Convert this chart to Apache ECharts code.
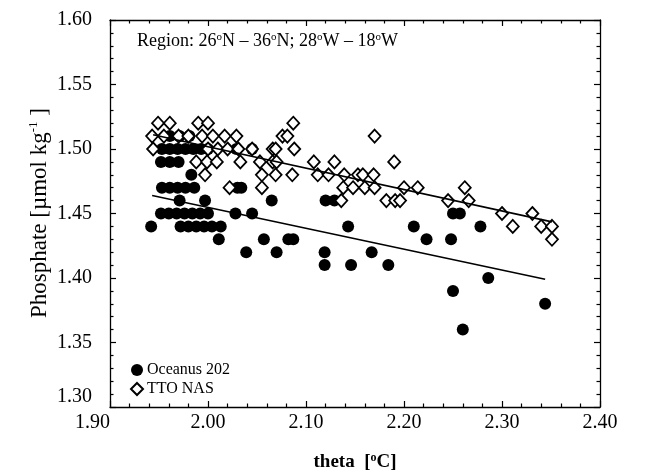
<!DOCTYPE html>
<html><head><meta charset="utf-8">
<script src="https://cdn.jsdelivr.net/npm/echarts@6/dist/echarts.min.js"></script>
<style>html,body{margin:0;padding:0;background:#fff}#c{width:651px;height:473px}</style>
</head><body><div id="c"></div>
<script>
// ---- data ----
const xTicks = ['1.90','2.00','2.10','2.20','2.30','2.40'];
const yTicks = ['1.30','1.35','1.40','1.45','1.50','1.55','1.60'];

const oceanusTheta = [
  1.961,1.971,1.981,
  1.953,1.961,1.969,1.977,1.985,1.993,2.000,2.029,2.045,
  1.952,1.961,1.970,
  1.983,
  1.953,1.961,1.969,1.977,1.986,2.030,2.034,
  1.971,1.997,2.065,2.120,2.129,
  1.952,1.960,1.968,1.976,1.984,1.992,2.000,2.028,2.045,2.250,2.257,
  1.942,1.972,1.980,1.988,1.996,2.004,2.013,2.143,2.210,2.278,
  2.011,2.057,2.082,2.087,2.223,2.248,
  2.039,2.070,2.119,2.167,
  2.119,2.146,2.184,
  2.286,
  2.250,
  2.344,
  2.260
];
const oceanusPhosphate = [
  1.51,1.51,1.51,
  1.50,1.50,1.50,1.50,1.50,1.50,1.50,1.50,1.50,
  1.49,1.49,1.49,
  1.48,
  1.47,1.47,1.47,1.47,1.47,1.47,1.47,
  1.46,1.46,1.46,1.46,1.46,
  1.45,1.45,1.45,1.45,1.45,1.45,1.45,1.45,1.45,1.45,1.45,
  1.44,1.44,1.44,1.44,1.44,1.44,1.44,1.44,1.44,1.44,
  1.43,1.43,1.43,1.43,1.43,1.43,
  1.42,1.42,1.42,1.42,
  1.41,1.41,1.41,
  1.40,
  1.39,
  1.38,
  1.36
];

const ttoTheta = [
  1.949,1.961,1.990,2.000,2.087,
  1.943,1.955,1.970,1.980,1.994,2.005,2.017,2.029,2.076,2.081,2.170,
  1.944,2.000,2.010,2.020,2.031,2.045,2.066,2.069,2.088,
  1.988,1.999,2.009,2.033,2.053,2.066,2.070,2.108,2.129,2.190,
  1.997,2.055,2.069,2.086,2.112,2.123,2.139,2.153,2.158,2.169,
  2.022,2.055,2.138,2.148,2.160,2.170,2.200,2.214,2.262,
  2.136,2.182,2.191,2.196,2.245,2.266,
  2.300,2.331,
  2.311,2.340,2.351,
  2.351
];
const ttoPhosphate = [
  1.52,1.52,1.52,1.52,1.52,
  1.51,1.51,1.51,1.51,1.51,1.51,1.51,1.51,1.51,1.51,1.51,
  1.50,1.50,1.50,1.50,1.50,1.50,1.50,1.50,1.50,
  1.49,1.49,1.49,1.49,1.49,1.49,1.49,1.49,1.49,1.49,
  1.48,1.48,1.48,1.48,1.48,1.48,1.48,1.48,1.48,1.48,
  1.47,1.47,1.47,1.47,1.47,1.47,1.47,1.47,1.47,
  1.46,1.46,1.46,1.46,1.46,1.46,
  1.45,1.45,
  1.44,1.44,1.44,
  1.43
];

const oceanusFitTheta = [1.943, 2.344];
const oceanusFitPhosphate = [1.464, 1.399];
const ttoFitTheta = [1.944, 2.351];
const ttoFitPhosphate = [1.511, 1.4435];

// ---- chart ----
const FONT = '"Liberation Serif", "Times New Roman", serif';
const zip = (a, b) => a.map((v, i) => [v, b[i]]);
const fmt = list => v => { const t = list.find(s => Math.abs(parseFloat(s) - v) < 1e-6); return t || ''; };

const axisCommon = {
  type: 'value',
  axisLine: { show: true, onZero: false, lineStyle: { color: '#000', width: 1.3 } },
  axisTick: { show: true, inside: true, length: 6, lineStyle: { color: '#000', width: 1.2 } },
  minorTick: { show: true, splitNumber: 5, length: 3.5, lineStyle: { color: '#000', width: 1.2 } },
  splitLine: { show: false },
  minorSplitLine: { show: false }
};

const chart = echarts.init(document.getElementById('c'), null, { renderer: 'canvas' });
chart.setOption({
  animation: false,
  backgroundColor: '#fff',
  grid: { left: 110, right: 51, top: 20, bottom: 66, containLabel: false },
  xAxis: [
    Object.assign({}, axisCommon, {
      position: 'bottom', min: 1.9, max: 2.4, interval: 0.1,
      axisLabel: { show: true, formatter: fmt(xTicks), color: '#000', fontFamily: FONT, fontSize: 20, margin: 6,
                   showMinLabel: true, showMaxLabel: true, alignMinLabel: 'right' }
    }),
    Object.assign({}, axisCommon, {
      position: 'top', min: 1.9, max: 2.4, interval: 0.1,
      axisLabel: { show: false }
    })
  ],
  yAxis: [
    Object.assign({}, axisCommon, {
      position: 'left', min: 1.3, max: 1.6, interval: 0.05,
      axisLabel: { show: true, formatter: fmt(yTicks), color: '#000', fontFamily: FONT, fontSize: 20, margin: 18,
                   showMinLabel: true, showMaxLabel: true, verticalAlignMinLabel: 'bottom' }
    }),
    Object.assign({}, axisCommon, {
      position: 'right', min: 1.3, max: 1.6, interval: 0.05,
      axisLabel: { show: false }
    })
  ],
  legend: {
    orient: 'vertical', left: 125, top: 357, itemWidth: 12, itemHeight: 12, itemGap: 3,
    textStyle: { fontFamily: FONT, fontSize: 16, color: '#000', padding: [0, 0, 0, -1] },
    data: [{ name: 'Oceanus 202', icon: 'circle' }, { name: 'TTO NAS', icon: 'diamond' }]
  },
  series: [
    {
      name: 'Oceanus 202', type: 'scatter', symbol: 'circle', symbolSize: 12,
      itemStyle: { color: '#000', borderColor: '#000', borderWidth: 0, opacity: 1 },
      data: zip(oceanusTheta, oceanusPhosphate), z: 2
    },
    {
      name: 'TTO NAS', type: 'scatter', symbol: 'diamond', symbolSize: [12, 13],
      itemStyle: { color: '#fff', borderColor: '#000', borderWidth: 1.8, opacity: 1 },
      data: zip(ttoTheta, ttoPhosphate), z: 3
    },
    {
      name: 'Oceanus fit', type: 'line', symbol: 'none', silent: true,
      lineStyle: { color: '#000', width: 1.6 },
      data: zip(oceanusFitTheta, oceanusFitPhosphate), z: 4
    },
    {
      name: 'TTO fit', type: 'line', symbol: 'none', silent: true,
      lineStyle: { color: '#000', width: 1.6 },
      data: zip(ttoFitTheta, ttoFitPhosphate), z: 4
    }
  ],
  graphic: [
    {
      type: 'text', left: 137, top: 32, z: 10,
      style: {
        text: 'Region: 26{s|o}N – 36{s|o}N; 28{s|o}W – 18{s|o}W',
        font: '18px ' + FONT, fill: '#000',
        rich: {
          s: { fontSize: 11, fontFamily: FONT, verticalAlign: 'top', lineHeight: 19, fill: '#000' }
        }
      }
    },
    {
      type: 'text', x: 40, y: 213, rotation: Math.PI / 2, z: 10,
      style: {
        text: 'Phosphate [µmol kg{s|-1} ]',
        font: '23px ' + FONT, fill: '#000', align: 'center', verticalAlign: 'middle',
        rich: {
          s: { fontSize: 13, fontFamily: FONT, verticalAlign: 'top', lineHeight: 25, fill: '#000' }
        }
      }
    },
    {
      type: 'text', x: 355, y: 462, z: 10,
      style: {
        text: 'theta  [{s|o}C]',
        font: 'bold 19px ' + FONT, fill: '#000', align: 'center', verticalAlign: 'middle',
        rich: {
          s: { fontSize: 12, fontWeight: 'bold', fontFamily: FONT, verticalAlign: 'top', lineHeight: 21, fill: '#000' }
        }
      }
    }
  ]
});
</script>
</body></html>
